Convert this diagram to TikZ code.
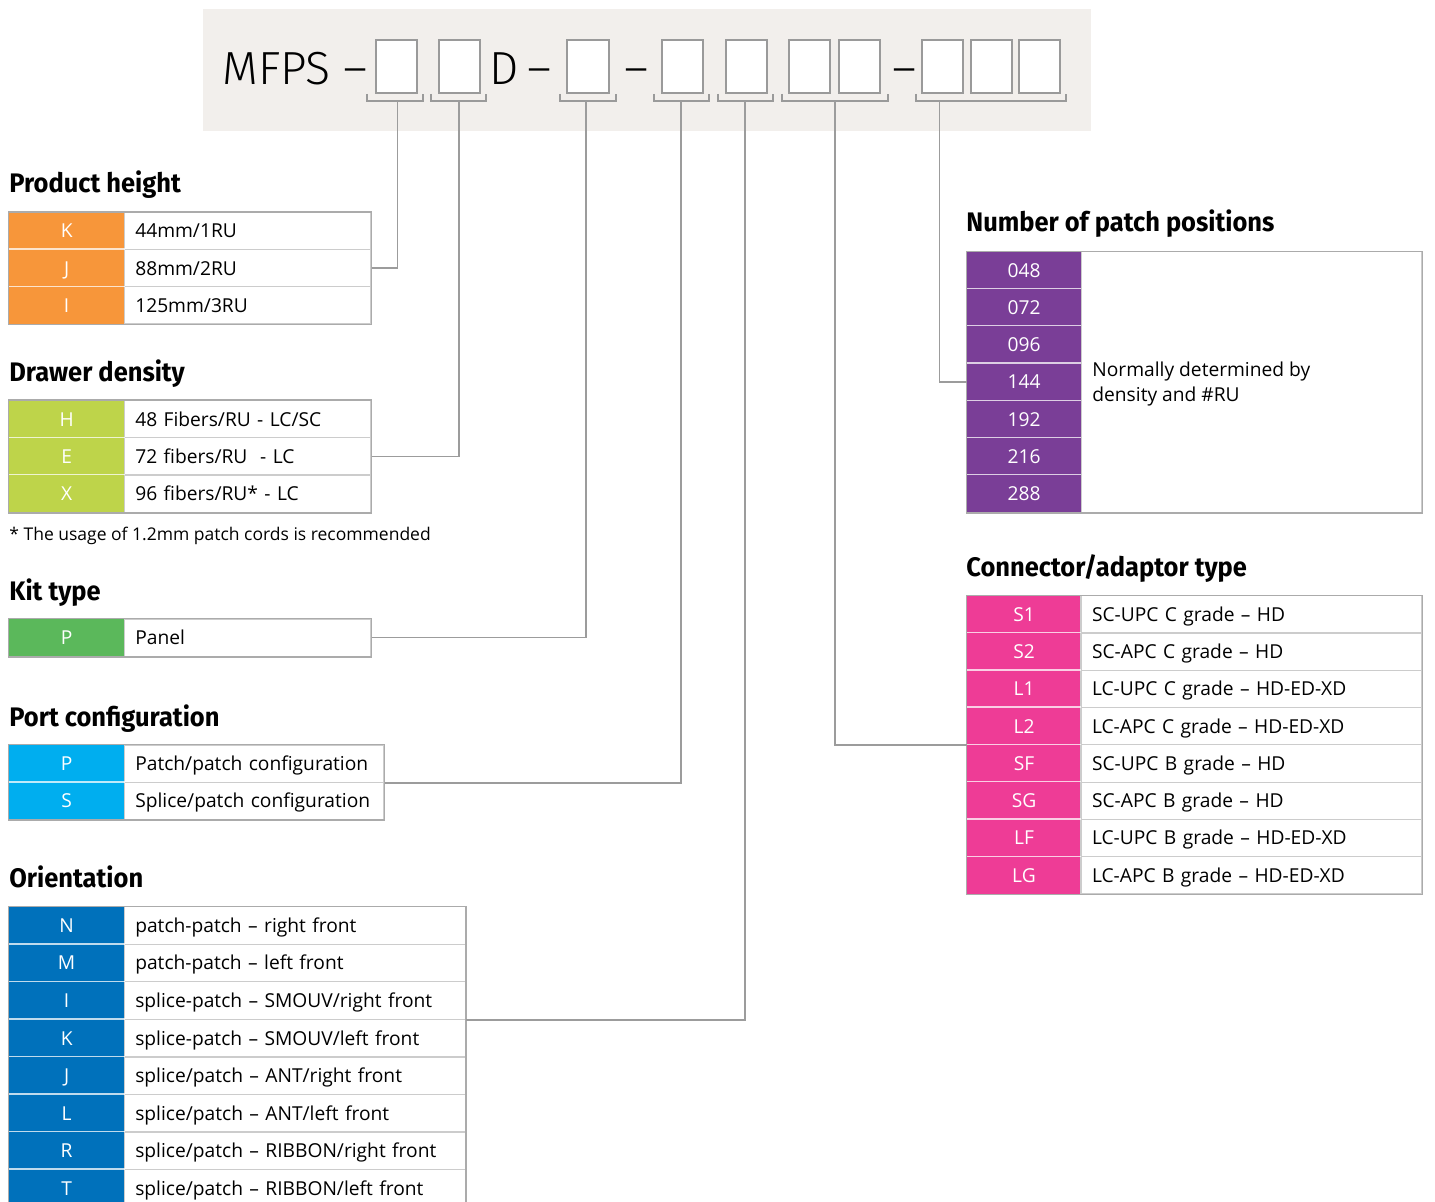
\documentclass[tikz,border=0pt]{standalone}
\usepackage{fontspec}
\setmainfont{Open Sans}
\newfontfamily\headfont{Fira Sans}[FakeStretch=0.95]
\newfontfamily\lightfont{Fira Sans Light}
\newcommand\bodyfont{\fontsize{9.6pt}{12.65pt}\selectfont}
\definecolor{cOrange}{HTML}{F7963A}
\definecolor{cLime}{HTML}{BED44A}
\definecolor{cGreen}{HTML}{5BB85B}
\definecolor{cCyan}{HTML}{00AEEF}
\definecolor{cBlue}{HTML}{0071BB}
\definecolor{cPurple}{HTML}{7A3E97}
\definecolor{cPink}{HTML}{EE3C96}
\definecolor{hdrbg}{HTML}{F2EFEC}
\definecolor{slotgray}{HTML}{9A9A9A}
\definecolor{conngray}{HTML}{9C9C9C}
\definecolor{rowgray}{HTML}{CCCCCC}
\definecolor{outgray}{HTML}{ABABAB}
\tikzset{
 hdr/.style={font=\lightfont\fontsize{23.2pt}{27pt}\selectfont, inner sep=0pt, anchor=base west},
 slot/.style={draw=slotgray, fill=white, line width=0.9pt, inner sep=0pt, minimum height=26.35pt},
 brk/.style={draw=slotgray, line width=0.8pt},
 conn/.style={draw=conngray, line width=0.8pt},
 head/.style={font=\headfont\bfseries\fontsize{13.4pt}{16pt}\selectfont, inner sep=0pt, anchor=base west},
 codecell/.style={inner sep=0pt, text=white, font=\bodyfont, text height=6.9pt, text depth=0pt},
 desccell/.style={draw=rowgray, line width=0.6pt, inner ysep=0pt, inner xsep=5.5pt, align=left, font=\bodyfont, text height=6.9pt, text depth=0pt},
 outer/.style={draw=outgray, line width=0.7pt},
 sepline/.style={draw=white, line width=0.7pt, opacity=0.75},
 note/.style={font=\fontsize{8.75pt}{11pt}\selectfont, inner sep=0pt, anchor=base west},
}
% table row: #1 prefix, #2 index, #3 colour, #4 code, #5 description
\newcommand\trow[5]{%
  \node[codecell, fill=#3, minimum width={(\xb-\xa)*0.5pt}, minimum height={\rh*0.5pt}] (#1#2c) at ({(\xa+\xb)/2},{\ty+(#2+0.5)*\rh}) {#4};
  \node[desccell, minimum height={\rh*0.5pt}, text width={(\xc-\xb-22)*0.5pt}] (#1#2d) at ({(\xb+\xc)/2},{\ty+(#2+0.5)*\rh}) {\mbox{#5}};
}
\newcommand\crow[4]{%
  \node[codecell, fill=#3, minimum width={(\xb-\xa)*0.5pt}, minimum height={\rh*0.5pt}] (#1#2c) at ({(\xa+\xb)/2},{\ty+(#2+0.5)*\rh}) {#4};
}
\newcommand\seps[2]{% #1 prefix, #2 last index
  \foreach \i in {1,...,#2} {\draw[sepline] (#1\i c.north west) -- (#1\i c.north east);}
}
\begin{document}
\begin{tikzpicture}[x=0.5pt,y=-0.5pt]
\useasboundingbox (0,0) rectangle (1435,1202);
% header
\fill[hdrbg] (203,9) rectangle (1091,131);
\foreach \n/\a/\b in {1/375.7/416.7, 2/439/480, 3/567.3/608.7, 4/661.7/702.7, 5/726/766.7, 6/789/830, 7/839/880, 8/922/963, 9/971/1011.7, 10/1019/1060}
  \node[slot, minimum width={(\b-\a)*0.5pt}] (s\n) at ({(\a+\b)/2},66.35) {};
\node[hdr] (tmfps) at (222,85) {MFPS};
\node[hdr] (td1) at (343,85) {–};
\node[hdr] (tD) at (489,85) {D};
\node[hdr] (td2) at (527,85) {–};
\node[hdr] (td3) at (624,85) {–};
\node[hdr] (td4) at (892,85) {–};
\foreach \n/\a/\b/\m in {1/367/423/397.5, 2/431/486/459, 3/560/615.7/586, 4/654/709/681, 5/718/773/745, 6/781.7/888/835, 7/915.7/1066/939.3}{
  \draw[brk] (\a,94) -- (\a,101) -- (\b,101) -- (\b,94);
  \coordinate (k\n) at (\m,101);
}
% Product height
\def\xa{9}\def\xb{124.3}\def\xc{371}\def\ty{212.3}\def\rh{37.25}
\node[head] (hph) at (9,193) {Product height};
\trow{ph}{0}{cOrange}{K}{44mm/1RU}
\trow{ph}{1}{cOrange}{J}{88mm/2RU}
\trow{ph}{2}{cOrange}{I}{125mm/3RU}
\seps{ph}{2}
\draw[outer] (ph0c.north west) rectangle (ph2d.south east);
% Drawer density
\def\ty{400.5}\def\rh{37.3}
\node[head] (hdd) at (9,382) {Drawer density};
\trow{dd}{0}{cLime}{H}{48 Fibers/RU - LC/SC}
\trow{dd}{1}{cLime}{E}{72 fibers/RU\ \ - LC}
\trow{dd}{2}{cLime}{X}{96 fibers/RU* - LC}
\seps{dd}{2}
\draw[outer] (dd0c.north west) rectangle (dd2d.south east);
\node[note] (fn) at (9,541) {* The usage of 1.2mm patch cords is recommended};
% Kit type
\def\ty{619}\def\rh{37.3}
\node[head] (hkt) at (9,601) {Kit type};
\trow{kt}{0}{cGreen}{P}{Panel}
\draw[outer] (kt0c.north west) rectangle (kt0d.south east);
% Port configuration
\def\xc{384}\def\ty{745}\def\rh{37.3}
\node[head] (hpc) at (9,727) {Port configuration};
\trow{pc}{0}{cCyan}{P}{Patch/patch configuration}
\trow{pc}{1}{cCyan}{S}{Splice/patch configuration}
\seps{pc}{1}
\draw[outer] (pc0c.north west) rectangle (pc1d.south east);
% Orientation
\def\xc{465.3}\def\ty{906.7}\def\rh{37.55}
\node[head] (hor) at (9,887) {Orientation};
\trow{or}{0}{cBlue}{N}{patch-patch – right front}
\trow{or}{1}{cBlue}{M}{patch-patch – left front}
\trow{or}{2}{cBlue}{I}{splice-patch – SMOUV/right front}
\trow{or}{3}{cBlue}{K}{splice-patch – SMOUV/left front}
\trow{or}{4}{cBlue}{J}{splice/patch – ANT/right front}
\trow{or}{5}{cBlue}{L}{splice/patch – ANT/left front}
\trow{or}{6}{cBlue}{R}{splice/patch – RIBBON/right front}
\trow{or}{7}{cBlue}{T}{splice/patch – RIBBON/left front}
\seps{or}{7}
\draw[outer] (or0c.north west) rectangle (or7d.south east);
% Number of patch positions
\def\xa{967}\def\xb{1081}\def\xc{1422}\def\ty{251.7}\def\rh{37.23}
\node[head] (hnp) at (966,232) {Number of patch positions};
\node[draw=rowgray, line width=0.6pt, inner sep=0pt, minimum width={(\xc-\xb)*0.5pt}, minimum height={7*\rh*0.5pt}] (npd) at ({(\xb+\xc)/2},{\ty+3.5*\rh}) {};
\crow{np}{0}{cPurple}{048}
\crow{np}{1}{cPurple}{072}
\crow{np}{2}{cPurple}{096}
\crow{np}{3}{cPurple}{144}
\crow{np}{4}{cPurple}{192}
\crow{np}{5}{cPurple}{216}
\crow{np}{6}{cPurple}{288}
\seps{np}{6}
\node[font=\bodyfont, inner sep=0pt, anchor=base west, align=left] (nptxt) at (1092,402) {Normally determined by\\density and \#RU};
\draw[outer] (np0c.north west) rectangle (npd.south east);
% Connector/adaptor type
\def\ty{595.7}\def\rh{37.29}
\node[head] (hca) at (966,577) {Connector/adaptor type};
\trow{ca}{0}{cPink}{S1}{SC-UPC C grade – HD}
\trow{ca}{1}{cPink}{S2}{SC-APC C grade – HD}
\trow{ca}{2}{cPink}{L1}{LC-UPC C grade – HD-ED-XD}
\trow{ca}{3}{cPink}{L2}{LC-APC C grade – HD-ED-XD}
\trow{ca}{4}{cPink}{SF}{SC-UPC B grade – HD}
\trow{ca}{5}{cPink}{SG}{SC-APC B grade – HD}
\trow{ca}{6}{cPink}{LF}{LC-UPC B grade – HD-ED-XD}
\trow{ca}{7}{cPink}{LG}{LC-APC B grade – HD-ED-XD}
\seps{ca}{7}
\draw[outer] (ca0c.north west) rectangle (ca7d.south east);
% connectors
\draw[conn] (k1) |- (ph1d.east);
\draw[conn] (k2) |- (dd1d.east);
\draw[conn] (k3) |- (kt0d.east);
\draw[conn] (k4) |- (pc0d.south east);
\draw[conn] (k5) |- (or2d.south east);
\draw[conn] (k6) |- (ca3c.south west);
\draw[conn] (k7) |- (np3c.west);
\end{tikzpicture}
\end{document}
